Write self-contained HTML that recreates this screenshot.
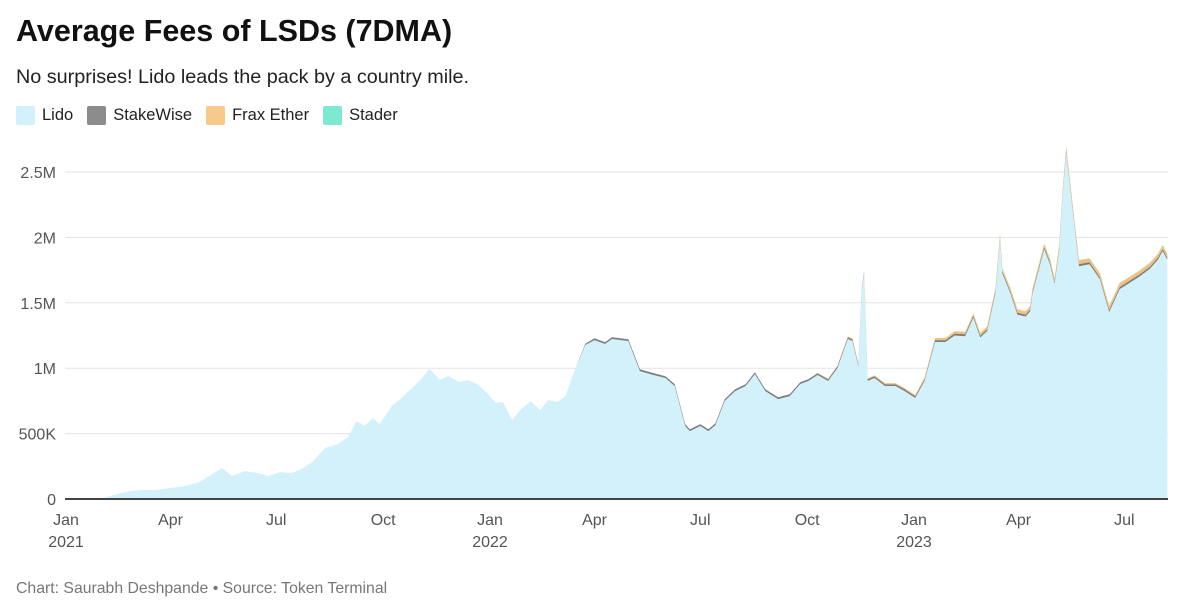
<!DOCTYPE html>
<html><head><meta charset="utf-8"><style>
body{margin:0;width:1200px;height:614px;background:#fff;font-family:"Liberation Sans",sans-serif;overflow:hidden;position:relative}
.t{position:absolute;left:16px;top:14px;font-size:30.5px;font-weight:bold;color:#111}
.s{position:absolute;left:16px;top:66px;font-size:19.8px;color:#222}
.lg{position:absolute;top:106px;left:16px;display:flex;gap:0;font-size:16.5px;color:#222}
.li{display:flex;align-items:center;margin-right:14px}
.sw{width:19px;height:19px;margin-right:7px;border-radius:2px}
.f{position:absolute;left:16px;top:580px;font-size:15.8px;color:#777}
svg{position:absolute;left:0;top:0}
</style></head><body>
<div class="t">Average Fees of LSDs (7DMA)</div>
<div class="s">No surprises! Lido leads the pack by a country mile.</div>
<div class="lg">
<div class="li"><div class="sw" style="background:#d3f1fa"></div>Lido</div>
<div class="li"><div class="sw" style="background:#8c8c8c"></div>StakeWise</div>
<div class="li"><div class="sw" style="background:#f7c98a"></div>Frax Ether</div>
<div class="li"><div class="sw" style="background:#7ee9d3"></div>Stader</div>
</div>
<svg id="c" width="1200" height="614"></svg>
<div class="f">Chart: Saurabh Deshpande • Source: Token Terminal</div>
<script>
const days=[0,29,38,51,64,77,90,102,115,126,134,143,154,165,174,184,194,201,212,223,234,243,250,257,264,270,281,287,296,305,313,322,329,338,346,355,364,370,376,384,391,400,408,415,423,430,438,447,455,464,470,484,494,503,516,524,533,537,546,553,559,567,576,585,593,602,613,623,632,639,647,656,664,673,677,682,685,687,690,696,705,714,722,731,739,748,757,765,774,781,787,793,800,804,806,813,819,826,830,832,842,847,851,855,858,861,866,872,881,890,898,907,916,924,933,940,944,948];
const lido=[0,0,23,54,69,69,84,99,130,191,237,176,214,199,176,206,199,222,283,390,420,474,596,558,619,573,719,757,833,910,994,910,940,895,910,872,795,734,742,604,680,749,680,757,742,787,986,1177,1215,1185,1223,1208,978,955,925,864,558,519,558,519,565,749,825,864,955,825,764,787,879,902,948,902,1001,1223,1208,1016,1590,1727,902,925,864,864,825,772,902,1200,1200,1250,1245,1385,1235,1285,1575,1990,1725,1570,1410,1395,1435,1570,1910,1795,1645,1910,2330,2650,2255,1780,1795,1680,1430,1605,1655,1700,1760,1830,1895,1830];
const stakewiseVals=[0,0,0,0,0,0,0,0,0,0,0,0,0,0,0,0,0,0,0,0,0,0,0,0,0,0,0,0,0,0,0,0,0,0,0,0,0,0,0,0,0,0,0,0,0,0,0,10,14,14,14,14,14,14,14,14,14,14,14,14,14,14,14,14,14,14,14,14,14,14,14,14,14,14,14,14,14,14,14,14,14,14,14,14,14,15,15,15,15,15,15,15,15,15,15,15,15,15,15,15,16,16,16,16,16,16,16,16,16,16,16,16,16,16,16,16,16,16];
const fraxVals=[0,0,0,0,0,0,0,0,0,0,0,0,0,0,0,0,0,0,0,0,0,0,0,0,0,0,0,0,0,0,0,0,0,0,0,0,0,0,0,0,0,0,0,0,0,0,0,0,0,0,0,0,0,0,0,0,0,0,0,0,0,0,0,0,0,0,0,0,0,0,2,3,4,5,5,5,5,5,6,6,7,8,9,10,12,15,16,17,18,19,20,20,22,24,24,25,25,25,25,25,26,26,26,26,27,28,28,28,28,28,28,28,28,28,28,28,28,28];
const staderVals=[0,0,0,0,0,0,0,0,0,0,0,0,0,0,0,0,0,0,0,0,0,0,0,0,0,0,0,0,0,0,0,0,0,0,0,0,0,0,0,0,0,0,0,0,0,0,0,0,0,0,0,0,0,0,0,0,0,0,0,0,0,0,0,0,0,0,0,0,0,0,0,0,0,0,0,0,0,0,0,0,0,0,0,0,0,0,0,0,0,0,0,0,1,1,1,1,1,1,1,1,2,2,2,2,2,2,3,3,3,3,3,3,3,3,3,3,3,3];
const yTicks=[0,500,1000,1500,2000,2500];
const yTickLabels=["0","500K","1M","1.5M","2M","2.5M"];
const xTickDays=[0,90,181,273,365,455,546,638,730,820,911];
const xTickLabels=["Jan","Apr","Jul","Oct","Jan","Apr","Jul","Oct","Jan","Apr","Jul"];
const xYearLabels=["2021","","","","2022","","","","2023","",""];

const svg=document.getElementById('c');const NS='http://www.w3.org/2000/svg';
const X=d=>66+d*1.1617, Y=v=>499-v*0.1308;
function mk(t,a){const e=document.createElementNS(NS,t);for(const k in a)e.setAttribute(k,a[k]);svg.appendChild(e);return e;}
yTicks.forEach((v,i)=>{
 const g=mk('line',{x1:65,x2:1168,y1:Y(v),y2:Y(v),stroke:'#e3e3e3','stroke-width':1});
 
 
 const t=mk('text',{x:56,y:Y(v)+6,'text-anchor':'end','font-size':16,fill:'#555','font-family':'Liberation Sans, sans-serif'});
 t.textContent=yTickLabels[i];
 
 
});
const layers=[lido,stakewiseVals,fraxVals,staderVals];
const colors=['#d3f1fa','#7d7d7d','#f2c07c','#7ee9d3'];
const names=['area-lido','area-stakewise','area-frax-ether','area-stader'];
let base=days.map(()=>0);
layers.forEach((arr,li)=>{
 const top=base.map((b,i)=>b+arr[i]);
 let d='M'+days.map((dd,i)=>X(dd).toFixed(1)+','+Y(top[i]).toFixed(1)).join('L');
 for(let i=days.length-1;i>=0;i--)d+='L'+X(days[i]).toFixed(1)+','+Y(base[i]).toFixed(1);
 d+='Z';
 const p=mk('path',{d:d,fill:colors[li]});
 
 
 base=top;
});
const ax=mk('line',{x1:65,x2:1168,y1:499,y2:499,stroke:'#444','stroke-width':2});


xTickDays.forEach((d,i)=>{
 const t=mk('text',{x:X(d),y:525,'text-anchor':'middle','font-size':16,fill:'#555','font-family':'Liberation Sans, sans-serif'});
 t.textContent=xTickLabels[i];
 
 
 if(xYearLabels[i]){const y=mk('text',{x:X(d),y:547,'text-anchor':'middle','font-size':16,fill:'#555','font-family':'Liberation Sans, sans-serif'});
 y.textContent=xYearLabels[i];
 
 }
});
</script>
</body></html>
